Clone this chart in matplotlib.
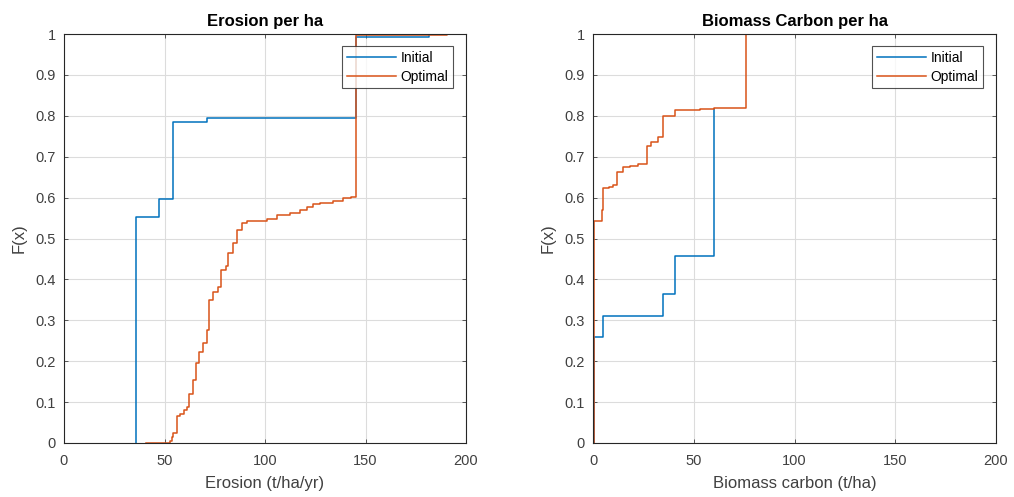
import matplotlib
matplotlib.use("Agg")
import matplotlib.pyplot as plt
from matplotlib.ticker import FuncFormatter

plt.rcParams['font.family'] = ['Liberation Sans', 'DejaVu Sans']

# ---- data (step CDFs: x where the CDF jumps, level after the jump) ----
ero_init_x = [35.6, 35.6, 47.3, 54.4, 71.0, 145.3, 181.6]
ero_init_F = [0.0, 0.552, 0.596, 0.784, 0.794, 0.992, 1.0]

ero_opt_x = [40.8, 52.7, 53.5, 54.4, 56.4, 57.7, 59.5, 61.4, 62.3, 64.0, 65.7, 67.3,
             69.3, 71.0, 72.3, 74.3, 76.5, 78.0, 80.6, 81.8, 84.2, 85.9, 88.4, 90.9,
             100.8, 105.8, 112.4, 117.4, 120.7, 124.0, 127.4, 134.0, 139.0, 143.0,
             145.3, 190.5]
ero_opt_F = [0.0, 0.005, 0.014, 0.025, 0.066, 0.072, 0.080, 0.089, 0.12, 0.154, 0.195, 0.223,
             0.244, 0.276, 0.35, 0.37, 0.382, 0.423, 0.433, 0.464, 0.488, 0.521, 0.537, 0.543,
             0.547, 0.557, 0.563, 0.57, 0.578, 0.584, 0.588, 0.592, 0.598, 0.602,
             0.997, 1.0]

bio_init_x = [0.3, 0.3, 5.1, 34.9, 40.7, 60.2]
bio_init_F = [0.0, 0.258, 0.31, 0.364, 0.456, 0.817]

bio_opt_x = [0.5, 0.5, 4.6, 5.0, 8.0, 10.0, 11.8, 15.0, 18.4, 22.5, 27.0, 28.6, 32.4,
             34.9, 40.7, 53.1, 60.0, 75.8]
bio_opt_F = [0.0, 0.543, 0.57, 0.623, 0.627, 0.632, 0.663, 0.676, 0.678, 0.682, 0.725,
             0.735, 0.749, 0.80, 0.814, 0.817, 0.819, 1.0]

titles = ["Erosion per ha", "Biomass Carbon per ha"]
xlabels = ["Erosion (t/ha/yr)", "Biomass carbon (t/ha)"]
series_names = ["Initial", "Optimal"]
x_ticks = [0, 50, 100, 150, 200]
y_ticks = [0, 0.1, 0.2, 0.3, 0.4, 0.5, 0.6, 0.7, 0.8, 0.9, 1.0]

BLUE = "#0072BD"
ORANGE = "#D95319"
AXC = "#262626"

fig = plt.figure(figsize=(10.14, 4.97), dpi=100)
ax1 = fig.add_axes([64 / 1014, 54 / 497, 402 / 1014, 409 / 497])
ax2 = fig.add_axes([593 / 1014, 54 / 497, 403 / 1014, 409 / 497])

data = [((ero_init_x, ero_init_F), (ero_opt_x, ero_opt_F)),
        ((bio_init_x, bio_init_F), (bio_opt_x, bio_opt_F))]

fmt = FuncFormatter(lambda v, p: ("%g" % round(v, 2)))

for ax, title, xl, (ini, opt) in zip([ax1, ax2], titles, xlabels, data):
    ax.step(ini[0], ini[1], where="post", color=BLUE, lw=1.1, label=series_names[0])
    ax.step(opt[0], opt[1], where="post", color=ORANGE, lw=1.1, label=series_names[1])
    ax.set_xlim(0, 200)
    ax.set_ylim(0, 1)
    ax.set_xticks(x_ticks)
    ax.set_yticks(y_ticks)
    ax.xaxis.set_major_formatter(fmt)
    ax.yaxis.set_major_formatter(fmt)
    ax.grid(True, color="#dcdcdc", lw=0.8)
    ax.set_axisbelow(True)
    for s in ax.spines.values():
        s.set_color(AXC)
        s.set_linewidth(0.8)
    ax.tick_params(direction="in", length=3, width=0.6, colors="#404040", labelsize=10.5,
                   top=True, right=True, labeltop=False, labelright=False)
    ax.tick_params(axis="x", pad=8)
    ax.tick_params(axis="y", pad=6)
    ax.set_title(title, fontsize=12, fontweight="bold", color="black", pad=6)
    ax.set_xlabel(xl, fontsize=12, color="#404040", labelpad=6)
    ax.set_ylabel("F(x)", fontsize=12, color="#404040", labelpad=6)
    leg = ax.legend(loc="upper right", bbox_to_anchor=(0.968, 0.971), fontsize=10,
                    frameon=True, fancybox=False, edgecolor=AXC, handlelength=3.5,
                    borderpad=0.35, labelspacing=0.35, handletextpad=0.35,
                    borderaxespad=0.0)
    leg.get_frame().set_linewidth(0.8)

fig.savefig("out.png", dpi=100)
